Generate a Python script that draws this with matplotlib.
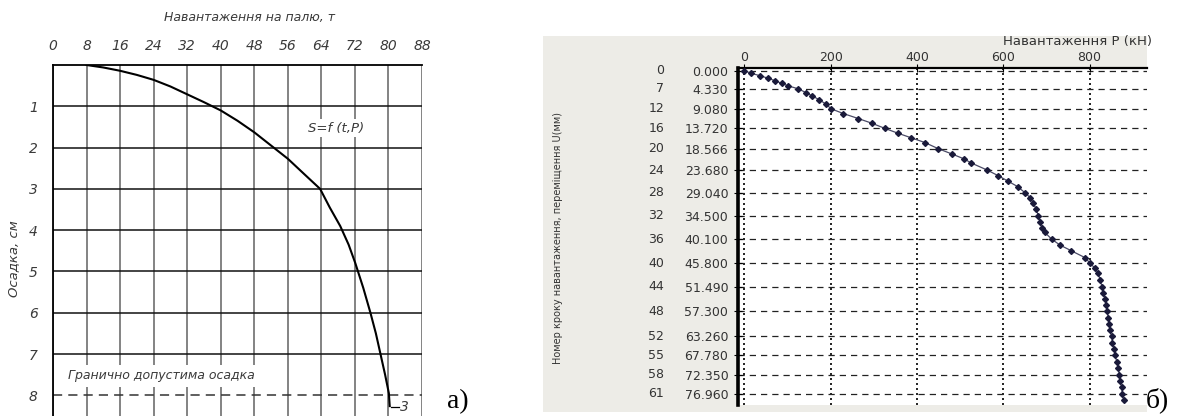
import matplotlib
matplotlib.use("Agg")
import matplotlib.pyplot as plt
from matplotlib.patches import Rectangle
from matplotlib.transforms import blended_transform_factory

# --- panel a): load vs settlement curve ---
load_t = [8, 12, 16, 20, 24, 28, 32, 36, 40, 44, 48, 52, 56, 60, 63.7,
          66, 68.5, 70.5, 72.1, 74, 75.7, 77, 78.1, 79.2, 80.1, 80.3]
settle_cm = [0, 0.06, 0.14, 0.24, 0.36, 0.52, 0.71, 0.9, 1.1, 1.35, 1.63, 1.95, 2.27, 2.65, 3.0,
             3.45, 3.9, 4.35, 4.8, 5.4, 6.0, 6.5, 7.0, 7.5, 7.95, 8.26]
x_ticks_a = [0, 8, 16, 24, 32, 40, 48, 56, 64, 72, 80, 88]
y_ticks_a = [1, 2, 3, 4, 5, 6, 7, 8]
limit_settle = 8

# --- panel b): test steps, displacement U (mm) vs load P (kN) ---
step_labels = [0, 7, 12, 16, 20, 24, 28, 32, 36, 40, 44, 48, 52, 55, 58, 61]
step_disp = [0.000, 4.330, 9.080, 13.720, 18.566, 23.680, 29.040, 34.500, 40.100,
             45.800, 51.490, 57.300, 63.260, 67.780, 72.350, 76.960]
disp_mm = [0, 0.6, 1.2, 1.8, 2.4, 3.0, 3.6, 4.33, 5.2, 6.0, 6.9, 7.9, 9.08,
           10.2, 11.4, 12.5, 13.72, 14.9, 16.0, 17.1, 18.566, 19.8, 21.0, 22.0, 23.68,
           25.0, 26.3, 27.6, 29.04, 30.2, 31.4, 33.0, 34.5, 36.0, 37.4, 38.5, 40.1,
           41.5, 42.9, 44.5, 45.8, 47.0, 48.2, 49.8, 51.49, 52.9, 54.4, 55.9, 57.3,
           58.8, 60.3, 61.8, 63.26, 64.8, 66.3, 67.78, 69.3, 70.8, 72.35, 73.9, 75.4,
           76.96, 78.5]
load_kn = [0, 15, 36, 55, 71, 86, 101, 125, 142, 157, 173, 188, 201,
           229, 264, 295, 325, 356, 387, 418, 449, 480, 509, 526, 563,
           588, 611, 633, 650, 662, 669, 676, 681, 685, 689, 696, 712,
           731, 758, 789, 801, 812, 820, 824, 829, 832, 836, 838, 841,
           843, 845, 847, 851, 853, 857, 859, 863, 866, 869, 871, 874,
           876, 879]
x_ticks_b = [0, 200, 400, 600, 800]

W, H = 1177, 416
fig = plt.figure(figsize=(W / 100, H / 100), dpi=100)

narrow = ['Liberation Sans Narrow', 'DejaVu Sans']
grey_txt = '#3a3a3a'

# gray form background behind panel b)
fig.patches.append(Rectangle((543 / W, 4 / H), (1147 - 543) / W, (412 - 36) / H,
                             transform=fig.transFigure, facecolor='#edece7',
                             edgecolor='none', zorder=-10))

# ---------------- panel a) ----------------
ax1 = fig.add_axes([53 / W, 0, 369 / W, (H - 65) / H])
ax1.set_xlim(0, 88)
ax1.set_ylim(8.5, 0)
ax1.set_xticks(x_ticks_a)
ax1.set_yticks(y_ticks_a)
ax1.xaxis.tick_top()
ax1.tick_params(axis='both', length=0, labelsize=10, labelcolor=grey_txt)
ax1.tick_params(axis='x', pad=9)
ax1.tick_params(axis='y', pad=11)
for lab in ax1.get_xticklabels() + ax1.get_yticklabels():
    lab.set_family(narrow)
    lab.set_style('italic')
for x in x_ticks_a:
    ax1.axvline(x, color='#7a7a7a', lw=1.3, zorder=1)
for y in y_ticks_a[:-1]:
    ax1.axhline(y, color='#111111', lw=1.1, zorder=1)
ax1.axhline(limit_settle, color='#333333', lw=1.1, ls=(0, (6, 4)), zorder=1)
for s in ['bottom', 'right']:
    ax1.spines[s].set_visible(False)
ax1.spines['top'].set_linewidth(1.3)
ax1.spines['left'].set_linewidth(1.3)

ax1.plot(load_t, settle_cm, color='black', lw=1.5, zorder=3)
ax1.plot([80.6, 82.4], [8.27, 8.27], color='black', lw=0.9, zorder=3)
ax1.text(82.8, 8.27, '3', ha='left', va='center', fontsize=10, style='italic',
         family=narrow, color=grey_txt)

ax1.text(67.5, 1.53, 'S=f (t,P)', ha='center', va='center', fontsize=9.5, style='italic',
         family=narrow, color=grey_txt, zorder=4,
         bbox=dict(facecolor='white', edgecolor='none', pad=2))
ax1.text(3.6, 7.53, 'Гранично допустима осадка', ha='left', va='center', fontsize=9,
         style='italic', family=narrow, color=grey_txt, zorder=4,
         bbox=dict(facecolor='white', edgecolor='none', pad=3))

fig.text(249 / W, 1 - 18 / H, 'Навантаження на палю, т', ha='center', va='center',
         fontsize=9, style='italic', family=narrow, color=grey_txt)
fig.text(14 / W, 1 - 259 / H, 'Осадка, см', ha='center', va='center', rotation=90,
         fontsize=9.5, style='italic', family=narrow, color=grey_txt)
fig.text(447 / W, 1 - 402 / H, 'а)', ha='left', va='center', fontsize=20,
         family=['Liberation Serif', 'DejaVu Serif'], color='black')

# ---------------- panel b) ----------------
ax2 = fig.add_axes([738 / W, (H - 405) / H, (1147 - 738) / W, (405 - 68) / H])
ax2.set_facecolor('white')
ax2.set_xlim(-15, 933)
ax2.set_ylim(79.6, -0.64)
ax2.set_xticks(x_ticks_b)
ax2.set_yticks(step_disp)
ax2.set_yticklabels([f'{v:.3f}' for v in step_disp])
ax2.xaxis.tick_top()
ax2.tick_params(axis='both', direction='inout', length=6, width=0.8,
                labelsize=9, labelcolor='#333333')
ax2.tick_params(axis='x', pad=0)
ax2.tick_params(axis='y', pad=4)
for x in x_ticks_b:
    ax2.axvline(x, color='black', lw=1.2, ls=(0, (1.2, 1.8)), zorder=1)
for y in step_disp:
    ax2.axhline(y, color='#222222', lw=0.9, ls=(0, (5, 4)), zorder=1)
ax2.spines['left'].set_linewidth(2.6)
ax2.spines['top'].set_linewidth(1.6)
for s in ['bottom', 'right']:
    ax2.spines[s].set_visible(False)

ax2.plot(load_kn, disp_mm, color='#4a4a66', lw=0.9, zorder=3)
ax2.plot(load_kn, disp_mm, ls='none', marker='D', ms=3, color='#1a1a3a', zorder=4)

trans = blended_transform_factory(ax2.transAxes, ax2.transData)
for st, v in zip(step_labels, step_disp):
    ax2.text(-0.181, v, str(st), transform=trans, ha='right', va='center',
             fontsize=9, color='#333333', clip_on=False)

fig.text(1152 / W, 1 - 41 / H, 'Навантаження P (кН)', ha='right', va='center',
         fontsize=9.5, color='#333333')
fig.text(558 / W, 1 - 238 / H, 'Номер кроку навантаження, переміщення U(мм)',
         ha='center', va='center', rotation=90, fontsize=7, family=narrow,
         color='#333333')
fig.text(1146 / W, 1 - 400 / H, 'б)', ha='left', va='center', fontsize=20,
         family=['Liberation Serif', 'DejaVu Serif'], color='black')

fig.savefig('out.png', dpi=100, facecolor='white')
